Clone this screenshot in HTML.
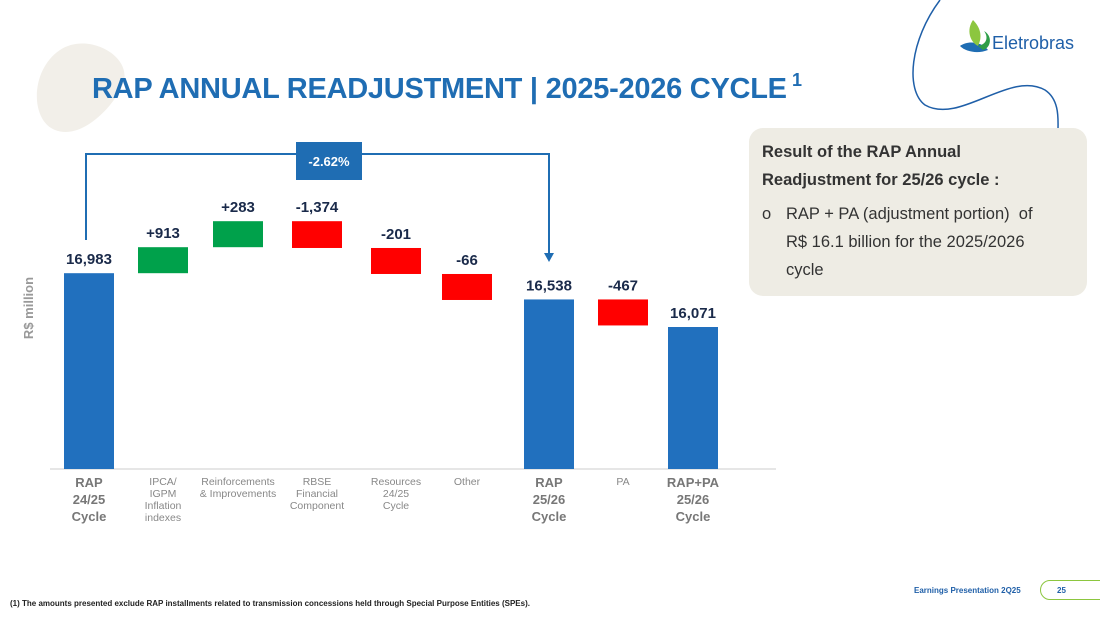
<!DOCTYPE html>
<html><head><meta charset="utf-8">
<style>
body{margin:0;width:1100px;height:619px;overflow:hidden;background:#fff;font-family:"Liberation Sans",sans-serif;position:relative}
.abs{position:absolute}
</style></head><body>
<svg class="abs" style="left:0;top:0" width="1100" height="619">
  <path d="M60,50 C90,30 140,60 120,90 C110,110 80,140 55,130 C30,120 30,70 60,50Z" fill="#f2efe9"/>
  <path d="M940,0 C910,40 905,90 925,105 C960,125 1010,70 1045,90 C1060,100 1058,120 1058,130" fill="none" stroke="#1f5fa8" stroke-width="1.5"/>
  <path d="M960,46 C968,40 982,42 988,50 C978,54 966,52 960,46Z" fill="#1f6db3"/>
  <path d="M973,20 C966,30 970,42 978,46 C983,36 980,27 973,20Z" fill="#8cc63f"/>
  <path d="M978,46 C988,44 988,36 984,31 C993,36 991,48 983,50Z" fill="#2e9e48"/>
  <text x="992" y="49" font-size="18" fill="#1f5fa8">Eletrobras</text>
  <text x="92" y="98" font-size="29" font-weight="bold" fill="#1f6db3" textLength="695">RAP ANNUAL READJUSTMENT | 2025-2026 CYCLE</text>
  <text x="792" y="86" font-size="18" font-weight="bold" fill="#1f6db3">1</text>
  <g id="chart"></g>
</svg>
<div class="abs" style="left:749px;top:128px;width:338px;height:168px;background:#eeece4;border-radius:14px;color:#333;font-size:16.5px;line-height:28px">
  <div style="position:absolute;left:13px;top:10px;font-weight:bold">Result of the RAP Annual<br>Readjustment for 25/26 cycle :</div>
  <div style="position:absolute;left:13px;top:72px;width:320px"><span style="position:absolute;left:0;top:0">o</span><div style="margin-left:24px;white-space:nowrap">RAP + PA (adjustment portion)&nbsp; of<br>R$ 16.1 billion for the 2025/2026<br>cycle</div></div>
</div>
<div class="abs" style="left:10px;top:599px;font-size:8px;font-weight:bold;color:#222">(1) The amounts presented exclude RAP installments related to transmission concessions held through Special Purpose Entities (SPEs).</div>
<div class="abs" style="left:914px;top:586px;font-size:8px;font-weight:bold;color:#1f5fa8">Earnings Presentation 2Q25</div>
<div class="abs" style="left:1040px;top:580px;width:70px;height:20px;border:1.5px solid #8cc63f;border-radius:10px;font-size:8px;font-weight:bold;color:#1f5fa8;line-height:20px;padding-left:16px;box-sizing:border-box">25</div>
<script>
const categories=["RAP\n24/25\nCycle","IPCA/\nIGPM\nInflation\nindexes","Reinforcements\n& Improvements","RBSE\nFinancial\nComponent","Resources\n24/25\nCycle","Other","RAP\n25/26\nCycle","PA","RAP+PA\n25/26\nCycle"];
const values=[16983,913,283,-1374,-201,-66,16538,-467,16071];
const kinds=["total","delta","delta","delta","delta","delta","total","delta","total"];
const labels=["16,983","+913","+283","-1,374","-201","-66","16,538","-467","16,071"];
const boldCat=[true,false,false,false,false,false,true,false,true];
const NS="http://www.w3.org/2000/svg";
const g=document.getElementById('chart');
const base=469,k=0.059,minV=16071,minH=142,k2=0.0195,minD=26;
function y(v){return base-minH-(v-minV)*k;}
function xc(i){return [89,163,238,317,396,467,549,623,693][i];}
function mk(t,a){const e=document.createElementNS(NS,t);for(const q in a)e.setAttribute(q,a[q]);g.appendChild(e);return e;}
let ax=mk('line',{x1:50,x2:776,y1:base,y2:base,stroke:'#ccc'});


let yt=mk('text',{x:33,y:308,'font-size':13,'font-weight':'bold',fill:'#999','text-anchor':'middle',transform:'rotate(-90 33 308)'});
yt.textContent='R$ million';


let level=0;
values.forEach((v,i)=>{
  let top,bot,col;
  if(kinds[i]==='total'){top=y(v);bot=base;level=top;col='#2170be';}
  else{const h=Math.max(Math.abs(v)*k2,minD);
    if(v>0){bot=level;top=level-h;level=top;col='#00a14b';}
    else{top=level;bot=level+h;level=bot;col='#ff0000';}}
  const r=mk('rect',{x:xc(i)-25,y:top,width:50,height:bot-top,fill:col});
  
  
  const t=mk('text',{x:xc(i),y:top-9,'font-size':15,'font-weight':'bold',fill:'#1a2a4a','text-anchor':'middle'});
  t.textContent=labels[i];
  
  
  const lines=categories[i].split('\n');
  lines.forEach((ln,j)=>{
    const c=mk('text',{x:xc(i),y:boldCat[i]?487+j*17:485+j*12,'font-size':boldCat[i]?13:10.5,'font-weight':boldCat[i]?'bold':'normal',fill:boldCat[i]?'#777':'#888','text-anchor':'middle'});
    c.textContent=ln;
    
    
  });
});
const br=mk('path',{d:`M${xc(0)-3},240 V154 H${xc(6)} V255`,fill:'none',stroke:'#1f6db3','stroke-width':2});


mk('path',{d:`M${xc(6)-5},253 L${xc(6)+5},253 L${xc(6)},262Z`,fill:'#1f6db3'});
const bx=mk('rect',{x:296,y:142,width:66,height:38,fill:'#1f6db3'});


const bt=mk('text',{x:329,y:166,'font-size':13,'font-weight':'bold',fill:'#fff','text-anchor':'middle'});
bt.textContent='-2.62%';


</script>
</body></html>
